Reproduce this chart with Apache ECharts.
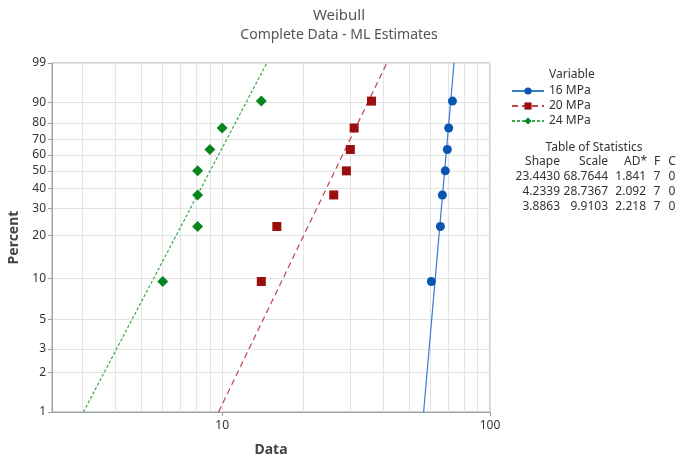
<!DOCTYPE html>
<html>
<head>
<meta charset="utf-8">
<script src="https://cdn.jsdelivr.net/npm/echarts@6.0.0/dist/echarts.min.js"></script>
<style>
  html, body { margin: 0; padding: 0; background: #fff; }
  #chart { width: 678px; height: 456px; }
</style>
</head>
<body>
<div id="chart"></div>
<script>
// Weibull probability plot, three stress levels
const variables = ['16 MPa', '20 MPa', '24 MPa'];
// Median-rank plotting positions (percent) for n = 7
const plotPercent = [9.46, 22.97, 36.49, 50, 63.51, 77.03, 90.54];
const data16 = [60.4, 65.3, 66.4, 68.1, 69.3, 70.1, 72.4];
const data20 = [14.0, 16.0, 26.1, 29.1, 30.1, 31.1, 36.1];
const data24 = [6.0, 8.1, 8.1, 8.1, 9.0, 10.0, 14.0];
// ML estimates per variable
const shapes = [23.4430, 4.2339, 3.8863];
const scales = [68.7644, 28.7367, 9.9103];
const shapeText = ['23.4430', '4.2339', '3.8863'];
const scaleText = ['68.7644', '28.7367', '9.9103'];
const adText = ['1.841', '2.092', '2.218'];
const failures = [7, 7, 7];
const censored = [0, 0, 0];
// Axis ticks
const percentTicks = [1, 2, 3, 5, 10, 20, 30, 40, 50, 60, 70, 80, 90, 99];
const dataGrid = [3, 4, 5, 6, 7, 8, 9, 10, 20, 30, 40, 50, 60, 70, 80, 90, 100];
const dataLabels = [10, 100];
const dataMin = 2.316, dataMax = 100;
const pctMin = 1, pctMax = 99;

const colors = ['#0a55b0', '#9c0e0e', '#08851f'];
const lineColors = ['#3a7ccf', '#c04545', '#38a848'];
const lineTypes = ['solid', [6, 4], [3, 2]];
const symbols = ['circle', 'rect', 'diamond'];
const symbolSizes = [9, 9, 11];
const allData = [data16, data20, data24];

// Weibull probability scale: ln(-ln(1-p))
const wt = p => Math.log(-Math.log(1 - p / 100));
const lg = v => Math.log10(v);

const FONT = 'Noto Sans';
const series = [];
variables.forEach((name, i) => {
  // fitted line from the ML shape/scale, spanning 1%..99%
  const ends = [pctMin, pctMax].map(p => [lg(scales[i] * Math.exp(wt(p) / shapes[i])), wt(p)]);
  series.push({
    name, type: 'line', data: ends, symbol: symbols[i], symbolSize: symbolSizes[i],
    showSymbol: false, silent: true, z: 2,
    itemStyle: { color: colors[i] },
    lineStyle: { color: lineColors[i], width: 1.2, type: lineTypes[i] }
  });
});
variables.forEach((name, i) => {
  series.push({
    name, type: 'scatter', z: 3,
    data: allData[i].map((v, k) => [lg(v), wt(plotPercent[k])]),
    symbol: symbols[i], symbolSize: symbolSizes[i],
    itemStyle: { color: colors[i], opacity: 1 }
  });
});

const txt = (x, y, text, opt = {}) => ({
  type: 'text', x, y, silent: true,
  style: Object.assign({ text, fontFamily: FONT, fontSize: 12, fill: '#333',
    textAlign: 'left', textVerticalAlign: 'middle' }, opt)
});

const graphics = [
  txt(339, 16, 'Weibull', { textAlign: 'center', fontSize: 15, fill: '#555' }),
  txt(339, 35, 'Complete Data - ML Estimates', { textAlign: 'center', fontSize: 14, fill: '#555' }),
  txt(549, 75, 'Variable', { fontSize: 12 }),
  txt(594, 148, 'Table of Statistics', { textAlign: 'center', fontSize: 12 }),
  txt(560, 162, 'Shape', { textAlign: 'right' }),
  txt(608, 162, 'Scale', { textAlign: 'right' }),
  txt(647, 162, 'AD*', { textAlign: 'right' }),
  txt(657, 162, 'F', { textAlign: 'center' }),
  txt(672, 162, 'C', { textAlign: 'center' })
];
variables.forEach((_, i) => {
  const y = 177 + i * 15;
  graphics.push(
    txt(560, y, shapeText[i], { textAlign: 'right' }),
    txt(608, y, scaleText[i], { textAlign: 'right' }),
    txt(646, y, adText[i], { textAlign: 'right' }),
    txt(657, y, String(failures[i]), { textAlign: 'center' }),
    txt(672, y, String(censored[i]), { textAlign: 'center' })
  );
});

const pctValues = percentTicks.map(wt);
const chart = echarts.init(document.getElementById('chart'), null, { renderer: 'canvas' });
chart.setOption({
  animation: false,
  backgroundColor: '#fff',
  textStyle: { fontFamily: FONT },
  grid: { left: 52, right: 188, top: 63, bottom: 44, show: true, borderColor: '#a0a0a0', borderWidth: 1,
    containLabel: false, outerBoundsMode: 'none' },
  legend: {
    data: variables, orient: 'vertical', left: 506, top: 80,
    itemWidth: 32, itemHeight: 9, itemGap: 3,
    textStyle: { fontFamily: FONT, fontSize: 12, color: '#333' }
  },
  xAxis: [{
    type: 'value', min: lg(dataMin), max: lg(dataMax),
    name: 'Data', nameLocation: 'middle', nameGap: 31,
    nameTextStyle: { fontFamily: FONT, fontSize: 14, fontWeight: 'bold', color: '#444' },
    axisLine: { onZero: false, lineStyle: { color: '#a0a0a0' } },
    axisTick: { customValues: dataLabels.map(lg), length: 4, lineStyle: { color: '#a0a0a0' } },
    axisLabel: { customValues: dataLabels.map(lg), formatter: v => String(Math.round(Math.pow(10, v))),
      fontFamily: FONT, fontSize: 12, color: '#333', margin: 8 },
    splitLine: { show: false }
  }, {
    type: 'value', min: lg(dataMin), max: lg(dataMax), position: 'bottom',
    axisLine: { show: false, onZero: false }, axisLabel: { show: false },
    axisTick: { show: false, customValues: dataGrid.map(lg) },
    splitLine: { show: true, customValues: dataGrid.map(lg), lineStyle: { color: '#e4e4e4', width: 1 } }
  }],
  yAxis: {
    type: 'value', min: wt(pctMin), max: wt(pctMax),
    name: 'Percent', nameLocation: 'middle', nameGap: 29,
    nameTextStyle: { fontFamily: FONT, fontSize: 14, fontWeight: 'bold', color: '#444' },
    axisLine: { show: true, onZero: false, lineStyle: { color: '#a0a0a0' } },
    axisTick: { show: true, customValues: pctValues, length: 4, lineStyle: { color: '#a0a0a0' } },
    axisLabel: {
      customValues: pctValues,
      formatter: v => {
        let best = 0;
        pctValues.forEach((w, k) => { if (Math.abs(w - v) < Math.abs(pctValues[best] - v)) best = k; });
        return String(percentTicks[best]);
      },
      fontFamily: FONT, fontSize: 12, color: '#333', margin: 6
    },
    splitLine: { show: true, customValues: pctValues, lineStyle: { color: '#e4e4e4', width: 1 } }
  },
  series,
  graphic: graphics
});
</script>
</body>
</html>
